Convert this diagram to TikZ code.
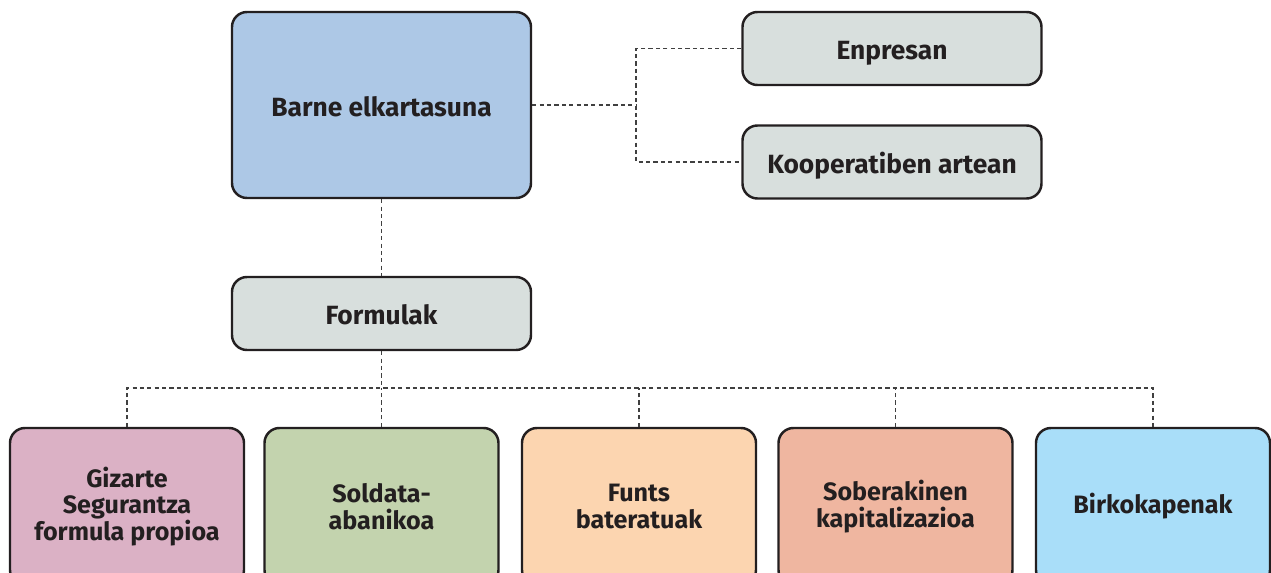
\documentclass[tikz,border=0pt]{standalone}
\usepackage{fontspec}
\setmainfont{Fira Sans}
\usetikzlibrary{calc}
\definecolor{inkdark}{HTML}{231F20}
\definecolor{barneblue}{HTML}{ADC8E6}
\definecolor{boxgray}{HTML}{D8DFDD}
\definecolor{gizpink}{HTML}{DBB1C5}
\definecolor{soldgreen}{HTML}{C3D3AE}
\definecolor{funtspeach}{HTML}{FCD5B0}
\definecolor{sobsalmon}{HTML}{EFB6A0}
\definecolor{birkblue}{HTML}{A9DEF9}
\begin{document}
\begin{tikzpicture}[
    box/.style={draw=inkdark, line width=1.4pt, rounded corners=0.3cm,
        text=inkdark, align=center, inner sep=2pt},
    topbox/.style={box, minimum width=5.98cm, minimum height=1.46cm,
        font=\fontsize{15}{16}\selectfont\bfseries, text height=13pt, text depth=0pt},
    leafbox/.style={box, minimum width=4.68cm, minimum height=3.14cm,
        font=\fontsize{14.3}{15}\selectfont\bfseries},
    link/.style={draw=black!75, line width=0.6pt, dash pattern=on 2.4pt off 1.8pt}
]
    \useasboundingbox (0,0) rectangle (25.42,-11.46);
    % upper part
    \node[topbox, fill=barneblue, minimum height=3.72cm] (barne) at (7.63,-2.1) {Barne elkartasuna};
    \node[topbox, fill=boxgray] (enpresan) at (17.84,-0.97) {Enpresan};
    \node[topbox, fill=boxgray] (koop) at (17.84,-3.24) {Kooperatiben artean};
    \node[topbox, fill=boxgray] (formulak) at (7.63,-6.27) {Formulak};
    % formulas
    \node[leafbox, fill=gizpink] (gizarte) at (2.54,-10.13) {Gizarte\\Segurantza\\formula propioa};
    \node[leafbox, fill=soldgreen] (soldata) at (7.63,-10.13) {Soldata-\\abanikoa};
    \node[leafbox, fill=funtspeach] (funts) at (12.78,-10.13) {Funts\\bateratuak};
    \node[leafbox, fill=sobsalmon] (soberakin) at (17.91,-10.13) {Soberakinen\\kapitalizazioa};
    \node[leafbox, fill=birkblue] (birko) at (23.06,-10.13) {Birkokapenak};
    % connectors
    \coordinate (fork) at (12.72,-2.1);
    \coordinate (bus) at (7.63,-7.76);
    \draw[link] (barne.east) -- (fork);
    \draw[link] (enpresan.west) -| (fork) |- (koop.west);
    \draw[link] (barne.south) -- (formulak.north);
    \draw[link] (formulak.south) -- (bus);
    \draw[link] (gizarte.north) |- (bus) -| (birko.north);
    \foreach \leaf in {soldata,funts,soberakin}
        \draw[link] (\leaf.north) -- (\leaf.north |- bus);
\end{tikzpicture}
\end{document}
